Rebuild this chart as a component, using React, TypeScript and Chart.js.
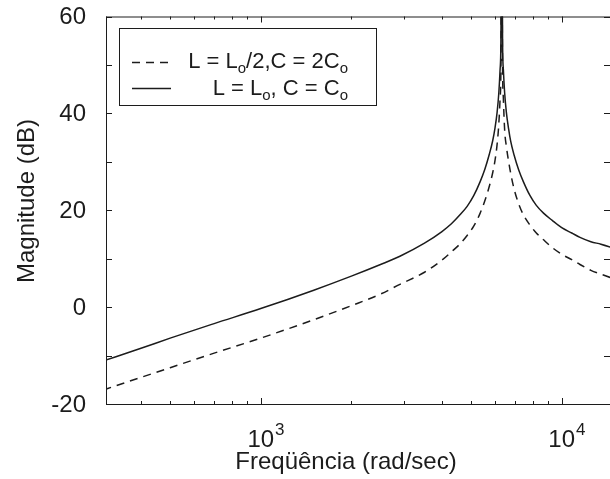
import { useEffect, useRef } from 'react';
import { Chart, registerables } from 'chart.js';

Chart.register(...registerables);

const FONT = '"Liberation Sans", Arial, Helvetica, sans-serif';

// Frequency samples (rad/sec)
const freq = [300, 400, 500, 700, 1000, 1500, 2000, 2500, 2900, 3500, 4000, 4300, 4600, 4850, 5100, 5350, 5550, 5750, 5900, 6000, 6100, 6180, 6240, 6280, 6320, 6360, 6400, 6463, 6548, 6657, 6770, 6946, 7197, 7468, 7832, 8235, 8700, 9300, 10000, 10800, 11500, 12500, 13500, 15000];
// L = Lo, C = Co (solid)
const magSolid = [-11.1, -8.5, -6.4, -3.4, -0.3, 3.5, 6.4, 8.8, 10.5, 13.2, 15.6, 17.2, 19.1, 20.8, 23.0, 25.8, 28.4, 31.6, 34.4, 36.9, 40.2, 44.2, 49, 55, 90, 55, 49, 44.2, 40.2, 36.9, 34.2, 31.4, 28.3, 25.8, 23.1, 21.0, 19.4, 17.9, 16.4, 15.3, 14.4, 13.5, 13.0, 12.1];
// L = Lo/2, C = 2Co (dashed)
const magDashed = [-17.1, -14.5, -12.5, -9.5, -6.4, -2.6, 0.3, 2.7, 4.7, 7.2, 9.7, 11.4, 13.1, 14.8, 16.7, 19.3, 21.9, 25.0, 27.8, 30.2, 33.6, 37.8, 43, 49, 80, 49, 43, 36.5, 33.2, 30.2, 27.6, 24.4, 21.3, 19.0, 17.0, 15.3, 13.9, 12.3, 10.9, 9.8, 8.8, 7.6, 6.8, 5.8];

const xMin = 306;
const xMax = 14470;
const yMin = -20;
const yMax = 60;

const yTickValues = [-20, -10, 0, 10, 20, 30, 40, 50, 60];
const yLabelValues = [60, 40, 20, 0, -20];
const yLabels = ['60', '40', '20', '0', '-20'];
const xMajorTicks = [1000, 10000];
const xMajorBase = ['10', '10'];
const xMajorExp = ['3', '4'];
const xMinorTicks = [400, 500, 600, 700, 800, 900, 2000, 3000, 4000, 5000, 6000, 7000, 8000, 9000];

const xTitle = 'Freqüência (rad/sec)';
const yTitle = 'Magnitude (dB)';

type Run = { t: string; sub?: boolean };
const legendRows: { runs: Run[]; dash: number[] }[] = [
  { runs: [{ t: 'L = L' }, { t: 'o', sub: true }, { t: '/2,C = 2C' }, { t: 'o', sub: true }], dash: [8, 6] },
  { runs: [{ t: 'L = L' }, { t: 'o', sub: true }, { t: ', C = C' }, { t: 'o', sub: true }], dash: [] },
];

const INK = '#1c1c1c';

function drawRich(ctx: CanvasRenderingContext2D, runs: Run[], rightX: number, baseY: number, size: number) {
  const subSize = Math.round(size * 0.68);
  let total = 0;
  for (const r of runs) {
    ctx.font = `${r.sub ? subSize : size}px ${FONT}`;
    total += ctx.measureText(r.t).width;
  }
  let x = rightX - total;
  ctx.textAlign = 'left';
  ctx.textBaseline = 'alphabetic';
  for (const r of runs) {
    ctx.font = `${r.sub ? subSize : size}px ${FONT}`;
    ctx.fillText(r.t, x, r.sub ? baseY + 5 : baseY);
    x += ctx.measureText(r.t).width;
  }
}

const matlabAxes = {
  id: 'matlabAxes',
  afterDraw(chart: any) {
    const ctx: CanvasRenderingContext2D = chart.ctx;
    const { left, right, top, bottom } = chart.chartArea;
    const xs = chart.scales.x;
    const ys = chart.scales.y;
    ctx.save();
    ctx.strokeStyle = INK;
    ctx.fillStyle = INK;
    ctx.lineWidth = 1;
    ctx.setLineDash([]);

    // frame
    ctx.beginPath();
    ctx.moveTo(left + 0.5, top);
    ctx.lineTo(left + 0.5, bottom);
    ctx.moveTo(left, top + 0.5);
    ctx.lineTo(right, top + 0.5);
    ctx.moveTo(left, bottom + 0.5);
    ctx.lineTo(right, bottom + 0.5);
    ctx.stroke();

    // y ticks (left and right, inward)
    ctx.beginPath();
    for (const v of yTickValues) {
      const y = Math.round(ys.getPixelForValue(v)) + 0.5;
      ctx.moveTo(left, y);
      ctx.lineTo(left + 6, y);
      ctx.moveTo(right, y);
      ctx.lineTo(right - 6, y);
    }
    // x ticks (top and bottom, inward)
    for (const v of xMajorTicks) {
      const x = Math.round(xs.getPixelForValue(v)) + 0.5;
      ctx.moveTo(x, bottom);
      ctx.lineTo(x, bottom - 6);
      ctx.moveTo(x, top);
      ctx.lineTo(x, top + 6);
    }
    for (const v of xMinorTicks) {
      const x = Math.round(xs.getPixelForValue(v)) + 0.5;
      ctx.moveTo(x, bottom);
      ctx.lineTo(x, bottom - 3);
      ctx.moveTo(x, top);
      ctx.lineTo(x, top + 3);
    }
    ctx.stroke();

    // y labels
    ctx.font = `24px ${FONT}`;
    ctx.textAlign = 'right';
    ctx.textBaseline = 'middle';
    yLabelValues.forEach((v, i) => {
      ctx.fillText(yLabels[i], left - 20, ys.getPixelForValue(v) + 1);
    });

    // x labels 10^n
    xMajorTicks.forEach((v, i) => {
      const x = xs.getPixelForValue(v);
      ctx.font = `24px ${FONT}`;
      ctx.textAlign = 'center';
      ctx.textBaseline = 'alphabetic';
      const w = ctx.measureText(xMajorBase[i]).width;
      ctx.fillText(xMajorBase[i], x, bottom + 43);
      ctx.font = `17px ${FONT}`;
      ctx.textAlign = 'left';
      ctx.fillText(xMajorExp[i], x + w / 2 + 1, bottom + 31);
    });

    // axis titles
    ctx.font = `24px ${FONT}`;
    ctx.textAlign = 'center';
    ctx.textBaseline = 'alphabetic';
    ctx.fillText(xTitle, 346, bottom + 65);

    ctx.save();
    ctx.translate(34, 201);
    ctx.rotate(-Math.PI / 2);
    ctx.textBaseline = 'alphabetic';
    ctx.fillText(yTitle, 0, 0);
    ctx.restore();

    // legend
    const bx = 119.5, by = 28.5, bw = 257, bh = 77;
    ctx.fillStyle = '#ffffff';
    ctx.fillRect(bx, by, bw, bh);
    ctx.strokeStyle = INK;
    ctx.strokeRect(bx, by, bw, bh);
    ctx.fillStyle = INK;
    const rowY = [62.5, 88.5];
    const baseY = [68, 95];
    legendRows.forEach((row, i) => {
      ctx.save();
      ctx.lineWidth = 1.5;
      ctx.setLineDash(row.dash);
      ctx.beginPath();
      ctx.moveTo(132, rowY[i]);
      ctx.lineTo(171, rowY[i]);
      ctx.stroke();
      ctx.restore();
      drawRich(ctx, row.runs, 348, baseY[i], 22);
    });

    ctx.restore();
  },
};

export default function App() {
  const ref = useRef<HTMLCanvasElement>(null);
  useEffect(() => {
    const canvas = ref.current;
    if (!canvas) return;
    const chart = new Chart(canvas, {
      type: 'line',
      data: {
        datasets: [
          {
            label: 'L = Lo/2, C = 2Co',
            data: freq.map((f, i) => ({ x: f, y: magDashed[i] })),
            borderColor: INK,
            borderWidth: 1.5,
            borderDash: [8, 6],
            pointRadius: 0,
            fill: false,
            cubicInterpolationMode: 'monotone',
          },
          {
            label: 'L = Lo, C = Co',
            data: freq.map((f, i) => ({ x: f, y: magSolid[i] })),
            borderColor: INK,
            borderWidth: 1.5,
            pointRadius: 0,
            fill: false,
            cubicInterpolationMode: 'monotone',
          },
        ],
      },
      options: {
        animation: false,
        responsive: true,
        maintainAspectRatio: false,
        layout: { padding: { left: 106, top: 16.5, right: 0, bottom: 75 } },
        scales: {
          x: { type: 'logarithmic', min: xMin, max: xMax, display: false },
          y: { type: 'linear', min: yMin, max: yMax, display: false },
        },
        plugins: {
          legend: { display: false },
          tooltip: { enabled: false },
        },
      },
      plugins: [matlabAxes],
    });
    return () => chart.destroy();
  }, []);
  return (
    <div style={{ position: 'fixed', left: 0, top: 0, width: 610, height: 479, background: '#fff' }}>
      <canvas ref={ref} />
    </div>
  );
}
